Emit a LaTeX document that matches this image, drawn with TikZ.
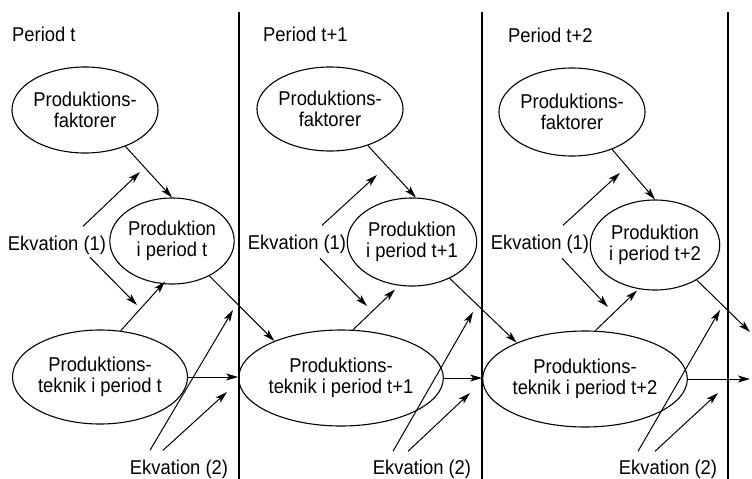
\documentclass[tikz,border=0pt]{standalone}
\usepackage{fontspec}
\setmainfont{Liberation Sans}[FakeStretch=0.92]
\usetikzlibrary{arrows.meta,shapes.geometric}
\tikzset{
	ell/.style={draw, ellipse, line width=1.1pt, inner sep=0pt, align=center, font=\fontsize{20}{21}\selectfont},
	lbl/.style={inner sep=0pt, font=\fontsize{20}{21}\selectfont},
	arr/.style={line width=1pt, -{Stealth[length=12pt,width=7pt,inset=3pt]}},
}

\begin{document}
\begin{tikzpicture}[x=1pt, y=-1pt]
		%%%%% START %%%%%
		\useasboundingbox (0, 0) rectangle (752, 479);
		
		\draw[line width=1.2pt] (239, 12) -- (239, 479);
		\draw[line width=1.2pt] (482, 12) -- (482, 479);
		\draw[line width=1.2pt] (728, 12) -- (728, 479);
		
		\node[lbl, anchor=base west] (per0) at (12, 41) {Period t};
		\node[lbl, anchor=base west] (per1) at (263, 41) {Period t+1};
		\node[lbl, anchor=base west] (per2) at (508, 42) {Period t+2};
		
		% period t
		\node[ell, minimum width=144, minimum height=86] (fak0) at (85, 110) {Produktions-\\faktorer};
		\node[ell, minimum width=116, minimum height=86] (prod0) at (172, 241) {Produktion\\i period t};
		\node[ell, minimum width=168, minimum height=94] (tek0) at (100, 377) {Produktions-\\teknik i period t};
		\node[lbl, anchor=base] (ekv10) at (57, 250) {Ekvation (1)};
		\node[lbl, anchor=base] (ekv20) at (179, 474) {Ekvation (2)};
		\coordinate (up0) at (140, 172);
		\coordinate (dn0) at (137, 305);
		\coordinate (in0) at (233, 310);
		\coordinate (on0) at (227, 392);
		
		% period t+1
		\node[ell, minimum width=144, minimum height=84] (fak1) at (330, 109) {Produktions-\\faktorer};
		\node[ell, minimum width=116, minimum height=88] (prod1) at (412, 242) {Produktion\\i period t+1};
		\node[ell, minimum width=168, minimum height=96] (tek1) at (341, 378) {Produktions-\\teknik i period t+1};
		\node[lbl, anchor=base] (ekv11) at (297, 249) {Ekvation (1)};
		\node[lbl, anchor=base] (ekv21) at (422, 474) {Ekvation (2)};
		\coordinate (up1) at (377, 175);
		\coordinate (dn1) at (367, 306);
		\coordinate (in1) at (473, 312);
		\coordinate (on1) at (470, 393);
		
		% period t+2
		\node[ell, minimum width=144, minimum height=88] (fak2) at (572, 112) {Produktions-\\faktorer};
		\node[ell, minimum width=116, minimum height=90] (prod2) at (655, 245) {Produktion\\i period t+2};
		\node[ell, minimum width=168, minimum height=96] (tek2) at (585, 379) {Produktions-\\teknik i period t+2};
		\node[lbl, anchor=base] (ekv12) at (540, 249) {Ekvation (1)};
		\node[lbl, anchor=base] (ekv22) at (668, 474) {Ekvation (2)};
		\coordinate (up2) at (620, 173);
		\coordinate (dn2) at (608, 307);
		\coordinate (in2) at (720, 310);
		\coordinate (on2) at (718, 393);
		\coordinate (out2) at (750, 332);
		\coordinate (next2) at (750, 379);
		
		% arrows inside each period
		\draw[arr] (fak0.-42) -- (prod0.north);
		\draw[arr] (tek0.66) -- ([shift={(-7,-3)}]prod0.south);
		\draw[arr] ([shift={(26,-9)}]ekv10.north) -- (up0);
		\draw[arr] ([shift={(33,3)}]ekv10.south) -- (dn0);
		\draw[arr] ([shift={(-29,-9)}]ekv20.north) -- (in0);
		\draw[arr] ([shift={(-16,-9)}]ekv20.north) -- (on0);
		
		\draw[arr] (fak1.-44) -- (prod1.85);
		\draw[arr] (tek1.76) -- ([shift={(-17,3)}]prod1.south);
		\draw[arr] ([shift={(25,-9)}]ekv11.north) -- (up1);
		\draw[arr] ([shift={(23,5)}]ekv11.south) -- (dn1);
		\draw[arr] ([shift={(-29,-8)}]ekv21.north) -- (in1);
		\draw[arr] ([shift={(-14,-8)}]ekv21.north) -- (on1);
		
		\draw[arr] (fak2.-43) -- (prod2.north);
		\draw[arr] (tek2.78) -- ([shift={(-18,0)}]prod2.south);
		\draw[arr] ([shift={(23,-9)}]ekv12.north) -- (up2);
		\draw[arr] ([shift={(22,5)}]ekv12.south) -- (dn2);
		\draw[arr] ([shift={(-30,-8)}]ekv22.north) -- (in2);
		\draw[arr] ([shift={(-13,-8)}]ekv22.north) -- (on2);
		
		% arrows between periods
		\draw[arr] (prod0.-43) -- (tek1.151);
		\draw[arr] (tek0.east) -- (tek0.east -| tek1.west);
		\draw[arr] (prod1.-44) -- (tek2.152);
		\draw[arr] (tek1.east) -- (tek1.east -| tek2.west);
		\draw[arr] (prod2.-40) -- (out2);
		\draw[arr] (tek2.east) -- (next2);
		
		%%%%% END %%%%%
	\end{tikzpicture}
\end{document}
